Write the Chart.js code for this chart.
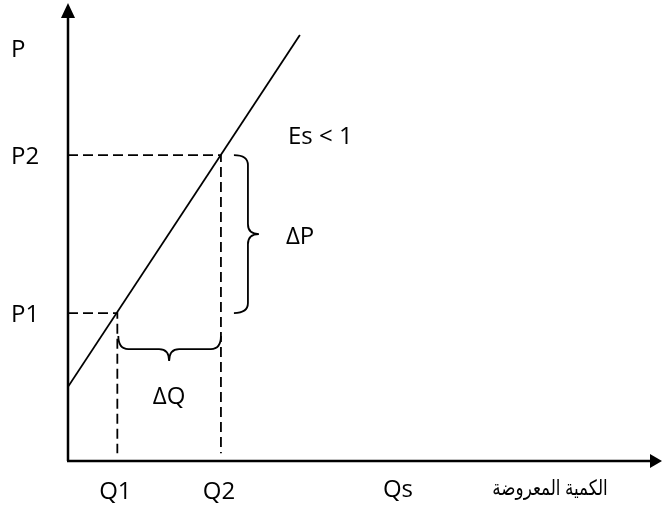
<!DOCTYPE html>
<html>
<head>
<meta charset="utf-8">
<script src="https://cdn.jsdelivr.net/npm/chart.js@4/dist/chart.umd.min.js"></script>
<style>
  html, body { margin: 0; padding: 0; background: #fff; }
</style>
</head>
<body>
<canvas id="supplyChart" width="662" height="510"></canvas>
<script>
// values (arbitrary units)
const qLabels = ['Q1', 'Q2'];
const qValues = [1, 3.1];
const pLabels = ['P1', 'P2'];
const pValues = [3.23, 6.68];
const supplyQ = [0, 4.7];
const supplyP = [1.62, 9.3];
const guideBottom = 0.17;
const xMax = 12;
const yMax = 10;

const FONT = '24px "Open Sans"';
const AR_FONT = '21px "Noto Sans", "DejaVu Sans", sans-serif';

function drawText(ctx, text, x, y, align, sx) {
    ctx.save();
    ctx.translate(x, y);
    ctx.scale(sx || 1, 1);
    ctx.textAlign = align;
    ctx.textBaseline = 'middle';
    ctx.fillText(text, 0, 0);
    ctx.restore();
}

const diagramPlugin = {
    id: 'diagram',
    afterDatasetsDraw(chart) {
        const ctx = chart.ctx;
        const area = chart.chartArea;
        const xs = chart.scales.x;
        const ys = chart.scales.y;
        ctx.save();
        ctx.strokeStyle = '#000';
        ctx.fillStyle = '#000';

        // axes with arrow heads
        ctx.lineWidth = 2.5;
        ctx.beginPath();
        ctx.moveTo(area.left, area.bottom);
        ctx.lineTo(area.left, area.top + 12);
        ctx.moveTo(area.left - 1, area.bottom);
        ctx.lineTo(area.right - 10, area.bottom);
        ctx.stroke();
        ctx.beginPath();
        ctx.moveTo(area.left, area.top);
        ctx.lineTo(area.left - 7, area.top + 15);
        ctx.lineTo(area.left + 7, area.top + 15);
        ctx.closePath();
        ctx.fill();
        ctx.beginPath();
        ctx.moveTo(area.right + 2, area.bottom);
        ctx.lineTo(area.right - 10, area.bottom - 7);
        ctx.lineTo(area.right - 10, area.bottom + 7);
        ctx.closePath();
        ctx.fill();

        const q1 = xs.getPixelForValue(qValues[0]);
        const q2 = xs.getPixelForValue(qValues[1]);
        const p1 = ys.getPixelForValue(pValues[0]);
        const p2 = ys.getPixelForValue(pValues[1]);

        // brace under the Q1-Q2 gap
        ctx.lineWidth = 1.8;
        let top = p1 + 23, flat = p1 + 36, tip = p1 + 48, mid = (q1 + q2) / 2, r = 10;
        ctx.beginPath();
        ctx.moveTo(q1 + 1, top);
        ctx.quadraticCurveTo(q1 + 1, flat, q1 + 1 + r, flat);
        ctx.lineTo(mid - r, flat);
        ctx.quadraticCurveTo(mid, flat, mid, tip);
        ctx.quadraticCurveTo(mid, flat, mid + r, flat);
        ctx.lineTo(q2 - r, flat);
        ctx.quadraticCurveTo(q2, flat, q2, top);
        ctx.stroke();

        // brace beside the P1-P2 gap
        let left = q2 + 13, fx = q2 + 27, tx = q2 + 38, my = (p1 + p2) / 2;
        ctx.beginPath();
        ctx.moveTo(left, p2);
        ctx.quadraticCurveTo(fx, p2, fx, p2 + r);
        ctx.lineTo(fx, my - r);
        ctx.quadraticCurveTo(fx, my, tx, my);
        ctx.quadraticCurveTo(fx, my, fx, my + r);
        ctx.lineTo(fx, p1 - r);
        ctx.quadraticCurveTo(fx, p1, left, p1);
        ctx.stroke();

        // labels
        ctx.font = FONT;
        drawText(ctx, 'P', 11, 50, 'left');
        pLabels.forEach((lab, i) => drawText(ctx, lab, 11, ys.getPixelForValue(pValues[i]) + 2, 'left'));
        qLabels.forEach((lab, i) => drawText(ctx, lab, xs.getPixelForValue(qValues[i]) - 2, 492, 'center'));
        drawText(ctx, 'Es < 1', 288, 137, 'left');
        drawText(ctx, 'ΔP', tx + 27, my + 3, 'left');
        drawText(ctx, 'ΔQ', mid, tip + 36, 'center');
        drawText(ctx, 'Qs', 398, 490, 'center');
        ctx.font = AR_FONT;
        drawText(ctx, 'الكمية المعروضة', 550, 489, 'center', 0.8);
        ctx.restore();
    }
};

const dashStyle = {
    borderColor: '#000',
    borderWidth: 1.8,
    borderDash: [10, 5],
    pointRadius: 0,
    fill: false
};

function makeChart() {
    new Chart(document.getElementById('supplyChart'), {
        type: 'line',
        data: {
            datasets: [
                {
                    label: 'Supply',
                    data: supplyQ.map((q, i) => ({ x: q, y: supplyP[i] })),
                    borderColor: '#000',
                    borderWidth: 1.8,
                    pointRadius: 0,
                    fill: false
                },
                Object.assign({
                    label: 'P1 guide',
                    data: [{ x: 0, y: pValues[0] }, { x: qValues[0], y: pValues[0] }, { x: qValues[0], y: guideBottom }]
                }, dashStyle),
                Object.assign({
                    label: 'P2 guide',
                    data: [{ x: 0, y: pValues[1] }, { x: qValues[1], y: pValues[1] }, { x: qValues[1], y: guideBottom }]
                }, dashStyle)
            ]
        },
        options: {
            responsive: false,
            animation: false,
            devicePixelRatio: 1,
            layout: { padding: { left: 68, right: 2, top: 3, bottom: 49 } },
            plugins: {
                legend: { display: false },
                tooltip: { enabled: false }
            },
            scales: {
                x: { type: 'linear', min: 0, max: xMax, display: false },
                y: { type: 'linear', min: 0, max: yMax, display: false }
            }
        },
        plugins: [diagramPlugin]
    });
}

Promise.all([document.fonts.load(FONT, 'PQ12'), document.fonts.load(AR_FONT, 'الكمية')])
    .then(makeChart, makeChart);
</script>
</body>
</html>
